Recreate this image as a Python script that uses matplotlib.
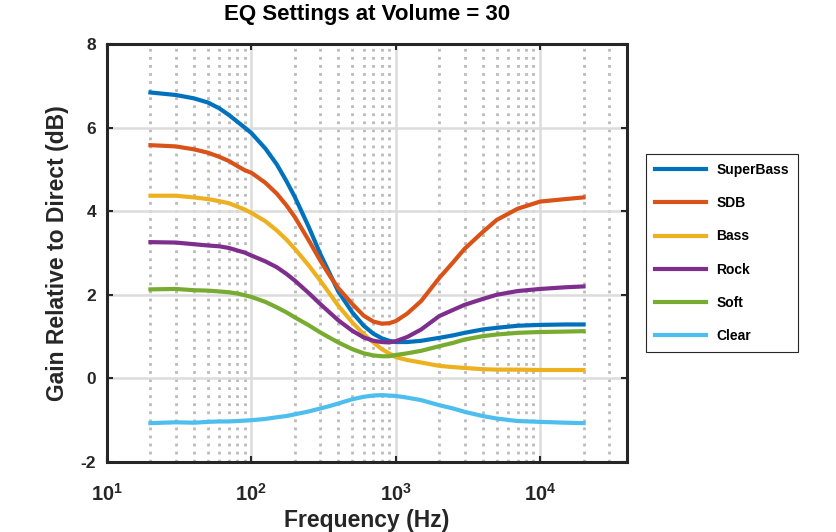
import numpy as np
import matplotlib
matplotlib.use("Agg")
import matplotlib.pyplot as plt
from matplotlib.ticker import LogLocator, NullFormatter

plt.rcParams['font.family'] = ['Liberation Sans', 'DejaVu Sans']
plt.rcParams['font.weight'] = 'bold'
plt.rcParams['axes.unicode_minus'] = False
plt.rcParams['mathtext.fontset'] = 'custom'
plt.rcParams['mathtext.rm'] = 'Liberation Sans:bold'
plt.rcParams['mathtext.bf'] = 'Liberation Sans:bold'
plt.rcParams['mathtext.it'] = 'Liberation Sans:bold'

# frecuencias (Hz)
freq = [20, 30, 40, 50, 60, 70, 80, 90, 100, 125, 150, 175, 200, 250, 300, 350, 400, 500, 600, 700,
        800, 900, 1000, 1200, 1500, 2000, 2500, 3000, 4000, 5000, 7000, 10000, 15000, 20000]

superbass = [6.84, 6.78, 6.70, 6.60, 6.46, 6.30, 6.14, 6.00, 5.87, 5.50, 5.12, 4.72, 4.34, 3.62, 2.98, 2.50,
             2.08, 1.58, 1.26, 1.07, 0.96, 0.90, 0.87, 0.87, 0.90, 0.97, 1.03, 1.09, 1.17, 1.21, 1.26,
             1.28, 1.29, 1.29]
sdb = [5.58, 5.55, 5.48, 5.40, 5.30, 5.20, 5.08, 4.98, 4.92, 4.68, 4.42, 4.14, 3.86, 3.30, 2.82, 2.45,
       2.16, 1.78, 1.50, 1.36, 1.31, 1.32, 1.37, 1.55, 1.85, 2.40, 2.78, 3.10, 3.50, 3.79, 4.06,
       4.23, 4.29, 4.33]
bass = [4.37, 4.37, 4.33, 4.29, 4.24, 4.19, 4.11, 4.04, 3.96, 3.76, 3.54, 3.32, 3.10, 2.70, 2.34, 2.02,
        1.74, 1.34, 1.06, 0.86, 0.70, 0.60, 0.51, 0.44, 0.38, 0.30, 0.27, 0.25, 0.22, 0.21, 0.21,
        0.20, 0.20, 0.20]
rock = [3.26, 3.25, 3.21, 3.18, 3.16, 3.12, 3.06, 3.01, 2.94, 2.80, 2.66, 2.50, 2.34, 2.04, 1.78, 1.57,
        1.39, 1.14, 0.98, 0.90, 0.87, 0.86, 0.89, 0.99, 1.17, 1.49, 1.64, 1.76, 1.90, 2.00, 2.09,
        2.14, 2.18, 2.20]
soft = [2.13, 2.14, 2.11, 2.10, 2.08, 2.06, 2.03, 1.99, 1.95, 1.83, 1.70, 1.58, 1.46, 1.27, 1.10, 0.97,
        0.86, 0.70, 0.60, 0.55, 0.53, 0.53, 0.56, 0.60, 0.66, 0.77, 0.85, 0.93, 1.01, 1.05, 1.09,
        1.11, 1.12, 1.13]
clear = [-1.07, -1.05, -1.06, -1.04, -1.03, -1.03, -1.02, -1.01, -1.00, -0.97, -0.93, -0.90, -0.86, -0.79,
         -0.72, -0.66, -0.60, -0.50, -0.44, -0.41, -0.40, -0.41, -0.42, -0.46, -0.52, -0.64, -0.72,
         -0.80, -0.90, -0.96, -1.02, -1.04, -1.06, -1.07]

series = [('SuperBass', superbass, '#0072BD'),
          ('SDB', sdb, '#D95319'),
          ('Bass', bass, '#EDB120'),
          ('Rock', rock, '#7E2F8E'),
          ('Soft', soft, '#77AC30'),
          ('Clear', clear, '#4DBEEE')]

fig = plt.figure(figsize=(8.36, 5.32), dpi=100)
ax = fig.add_axes([107/836, 1 - 462/532, 520/836, 418/532])

for nombre, valores, color in series:
    ax.plot(freq, valores, color=color, linewidth=3, label=nombre, solid_joinstyle='round')

ax.set_xscale('log')
ax.set_xlim(10, 40000)
ax.set_ylim(-2, 8)
ax.set_yticks([-2, 0, 2, 4, 6, 8])
ax.xaxis.set_minor_locator(LogLocator(base=10, subs=np.arange(2, 10), numticks=20))
ax.xaxis.set_minor_formatter(NullFormatter())

ax.grid(True, which='major', color='#dcdcdc', linewidth=1.8, linestyle='-')
ax.grid(True, which='minor', axis='x', color='#bababa', linewidth=2.0, linestyle=(0, (1, 1.9)))
ax.set_axisbelow(True)

ax.tick_params(which='major', direction='in', top=True, right=True, length=4, width=1.5,
               color='#262626', labelcolor='#262626')
ax.tick_params(axis='x', which='major', labelsize=14.5, pad=15)
ax.tick_params(axis='y', which='major', labelsize=12.5, pad=8)
ax.tick_params(which='minor', length=0)
for s in ax.spines.values():
    s.set_linewidth(2.2)
    s.set_color('#262626')

ax.set_xlabel('Frequency (Hz)', fontsize=16.5, fontweight='bold', color='#262626', labelpad=3)
ax.set_ylabel('Gain Relative to Direct (dB)', fontsize=16.5, fontweight='bold', color='#262626', labelpad=8)
ax.set_title('EQ Settings at Volume = 30', fontsize=16, fontweight='bold', color='black', pad=17)

leg = ax.legend(loc='center left', bbox_to_anchor=(1.0365, 0.5), borderaxespad=0, fontsize=10,
                handlelength=3.7, handletextpad=0.75, labelspacing=1.38,
                borderpad=0.62, fancybox=False, framealpha=1, edgecolor='#262626')
leg.get_frame().set_linewidth(0.8)

fig.savefig('out.png', dpi=100)
